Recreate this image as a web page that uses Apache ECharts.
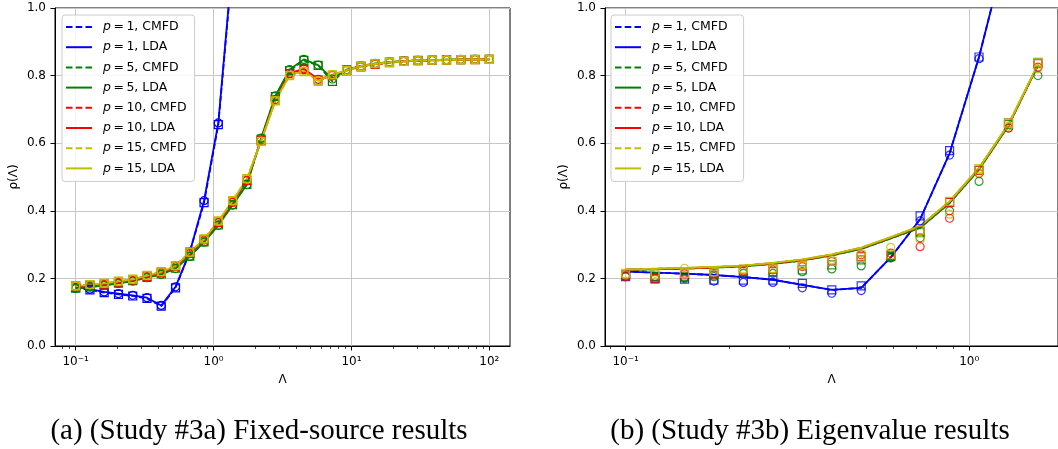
<!DOCTYPE html>
<html><head><meta charset="utf-8">
<script src="https://cdn.jsdelivr.net/npm/echarts@6/dist/echarts.min.js"></script>
<style>html,body{margin:0;padding:0;background:#fff}#c{width:1058px;height:449px}</style>
</head><body><div id="c"></div>
<script>
// ---------- data: panel (a) fixed-source ----------
const lamA = [0.1, 0.1269, 0.161, 0.2043, 0.2593, 0.329, 0.4175, 0.5298, 0.6723, 0.8532, 1.0826, 1.3738, 1.7433, 2.2122, 2.8072, 3.5622, 4.5204, 5.7362, 7.279, 9.2367, 11.721, 14.874, 18.874, 23.95, 30.392, 38.566, 48.939, 62.102, 78.805, 100];
const rhoA_p1_CMFD = [0.172, 0.166, 0.158, 0.153, 0.148, 0.141, 0.118, 0.172, 0.278, 0.424, 0.655, 1.13, 1.9, 3.2, 5.3, null, null, null, null, null, null, null, null, null, null, null, null, null, null, null];
const rhoA_p1_LDA = [0.175, 0.168, 0.16, 0.155, 0.15, 0.143, 0.12, 0.175, 0.278, 0.43, 0.66, 1.14, 1.92, 3.2, 5.3, null, null, null, null, null, null, null, null, null, null, null, null, null, null, null];
const rhoA_p5_CMFD = [0.172, 0.176, 0.18, 0.186, 0.193, 0.203, 0.213, 0.23, 0.266, 0.308, 0.358, 0.418, 0.478, 0.612, 0.738, 0.815, 0.845, 0.83, 0.783, 0.817, 0.828, 0.835, 0.84, 0.843, 0.845, 0.846, 0.847, 0.847, 0.848, 0.848];
const rhoA_p5_LDA = [0.17, 0.174, 0.179, 0.185, 0.192, 0.202, 0.212, 0.229, 0.265, 0.307, 0.357, 0.417, 0.477, 0.615, 0.74, 0.818, 0.848, 0.831, 0.79, 0.818, 0.829, 0.836, 0.84, 0.843, 0.845, 0.846, 0.847, 0.848, 0.848, 0.848];
const rhoA_p10_CMFD = [0.178, 0.18, 0.184, 0.19, 0.196, 0.207, 0.218, 0.236, 0.274, 0.315, 0.366, 0.426, 0.49, 0.607, 0.728, 0.806, 0.818, 0.787, 0.8, 0.815, 0.826, 0.833, 0.838, 0.842, 0.844, 0.845, 0.846, 0.847, 0.847, 0.848];
const rhoA_p10_LDA = [0.176, 0.179, 0.183, 0.189, 0.195, 0.206, 0.217, 0.235, 0.273, 0.314, 0.365, 0.425, 0.489, 0.608, 0.729, 0.807, 0.82, 0.789, 0.801, 0.816, 0.827, 0.834, 0.839, 0.842, 0.844, 0.845, 0.846, 0.847, 0.848, 0.848];
const rhoA_p15_CMFD = [0.178, 0.182, 0.186, 0.192, 0.198, 0.209, 0.22, 0.238, 0.278, 0.317, 0.37, 0.43, 0.495, 0.605, 0.725, 0.8, 0.812, 0.783, 0.802, 0.815, 0.827, 0.835, 0.839, 0.842, 0.844, 0.846, 0.846, 0.847, 0.847, 0.848];
const rhoA_p15_LDA = [0.177, 0.181, 0.185, 0.191, 0.197, 0.208, 0.219, 0.237, 0.277, 0.316, 0.369, 0.429, 0.494, 0.606, 0.726, 0.801, 0.814, 0.785, 0.803, 0.816, 0.828, 0.835, 0.839, 0.842, 0.845, 0.846, 0.847, 0.847, 0.848, 0.848];

// ---------- data: panel (b) eigenvalue ----------
const lamB = [0.1, 0.1218, 0.1484, 0.1807, 0.2202, 0.2683, 0.3268, 0.3981, 0.485, 0.5908, 0.7197, 0.8768, 1.068, 1.3011, 1.5849];
const rhoB_p1_theory = [0.220, 0.217, 0.214, 0.210, 0.204, 0.196, 0.181, 0.166, 0.172, 0.262, 0.375, 0.57, 0.855, 1.2, 1.6];
const rhoB_p5_theory = [0.225, 0.227, 0.229, 0.232, 0.236, 0.243, 0.253, 0.268, 0.287, 0.318, 0.35, 0.423, 0.522, 0.652, 0.83];
const rhoB_p10_theory = [0.226, 0.228, 0.23, 0.233, 0.237, 0.245, 0.255, 0.27, 0.29, 0.321, 0.354, 0.427, 0.526, 0.655, 0.832];
const rhoB_p15_theory = [0.226, 0.229, 0.231, 0.234, 0.238, 0.246, 0.256, 0.271, 0.291, 0.322, 0.355, 0.428, 0.527, 0.656, 0.833];
const rhoB_p1_CMFDnum = [0.205, 0.2, 0.198, 0.195, 0.195, 0.195, 0.185, 0.166, 0.178, 0.264, 0.385, 0.578, 0.855, null, null];
const rhoB_p1_LDAnum = [0.208, 0.205, 0.202, 0.192, 0.188, 0.188, 0.172, 0.156, 0.164, 0.262, 0.37, 0.565, 0.85, null, null];
const rhoB_p5_CMFDnum = [0.21, 0.205, 0.205, 0.21, 0.22, 0.22, 0.225, 0.24, 0.255, 0.265, 0.335, 0.425, 0.52, 0.655, 0.838];
const rhoB_p5_LDAnum = [0.205, 0.205, 0.2, 0.205, 0.215, 0.215, 0.22, 0.228, 0.237, 0.26, 0.32, 0.40, 0.487, 0.645, 0.80];
const rhoB_p10_CMFDnum = [0.21, 0.198, 0.21, 0.215, 0.225, 0.228, 0.24, 0.25, 0.265, 0.268, 0.34, 0.425, 0.52, 0.66, 0.835];
const rhoB_p10_LDAnum = [0.205, 0.2, 0.215, 0.21, 0.222, 0.225, 0.235, 0.25, 0.27, 0.275, 0.294, 0.378, 0.51, 0.645, 0.825];
const rhoB_p15_CMFDnum = [0.215, 0.21, 0.215, 0.22, 0.228, 0.23, 0.24, 0.25, 0.262, 0.27, 0.343, 0.428, 0.525, 0.66, 0.84];
const rhoB_p15_LDAnum = [0.21, 0.215, 0.23, 0.218, 0.225, 0.228, 0.238, 0.255, 0.275, 0.292, 0.314, 0.39, 0.513, 0.65, 0.82];

const seriesNames = ['p = 1, CMFD', 'p = 1, LDA', 'p = 5, CMFD', 'p = 5, LDA', 'p = 10, CMFD', 'p = 10, LDA', 'p = 15, CMFD', 'p = 15, LDA'];
const colors = ['#0000ff', '#0000ff', '#008000', '#008000', '#ff0000', '#ff0000', '#bfbf00', '#bfbf00'];
const majorA = [0.1, 1, 10, 100];
const minorA = [0.08, 0.09, 0.2, 0.3, 0.4, 0.5, 0.6, 0.7, 0.8, 0.9, 2, 3, 4, 5, 6, 7, 8, 9, 20, 30, 40, 50, 60, 70, 80, 90];
const majorB = [0.1, 1];
const minorB = [0.09, 0.2, 0.3, 0.4, 0.5, 0.6, 0.7, 0.8, 0.9];

const seriesA = [rhoA_p1_CMFD, rhoA_p1_LDA, rhoA_p5_CMFD, rhoA_p5_LDA, rhoA_p10_CMFD, rhoA_p10_LDA, rhoA_p15_CMFD, rhoA_p15_LDA];
const theoryB = [rhoB_p1_theory, rhoB_p1_theory, rhoB_p5_theory, rhoB_p5_theory, rhoB_p10_theory, rhoB_p10_theory, rhoB_p15_theory, rhoB_p15_theory];
const numB = [rhoB_p1_CMFDnum, rhoB_p1_LDAnum, rhoB_p5_CMFDnum, rhoB_p5_LDAnum, rhoB_p10_CMFDnum, rhoB_p10_LDAnum, rhoB_p15_CMFDnum, rhoB_p15_LDAnum];

const FONT = 'DejaVu Sans';
const GRIDC = '#c6c6c6';
const sup = {'-': '\u207B', '0': '\u2070', '1': '\u00B9', '2': '\u00B2', '3': '\u00B3'};
function powFmt(v) {
  const e = Math.round(Math.log10(v));
  return '10' + String(e).split('').map(c => sup[c]).join('');
}
function pairs(x, y) { return x.map((v, i) => [v, y[i] == null ? null : y[i]]); }

function xAxes(g, min, max, major, minor) {
  return [{
    type: 'log', logBase: 10, gridIndex: g, min: min, max: max, position: 'bottom',
    axisLine: {show: true, onZero: false, lineStyle: {color: '#000', width: 1}},
    axisTick: {show: true, length: 4.5, lineStyle: {color: '#000', width: 1}, customValues: major},
    axisLabel: {show: true, customValues: major, formatter: powFmt, color: '#000', fontSize: 12, fontFamily: FONT, margin: 10},
    splitLine: {show: true, lineStyle: {color: GRIDC, width: 1}},
    name: '\u039B', nameLocation: 'middle', nameGap: 28,
    nameTextStyle: {color: '#000', fontSize: 12, fontFamily: FONT}
  }, {
    type: 'log', logBase: 10, gridIndex: g, min: min, max: max, position: 'bottom',
    axisLine: {show: false, onZero: false},
    axisTick: {show: true, length: 2.8, lineStyle: {color: '#000', width: 0.8}, customValues: minor},
    axisLabel: {show: false}, splitLine: {show: false}
  }];
}
function yAxis(g) {
  return {
    type: 'value', gridIndex: g, min: 0, max: 1, interval: 0.2,
    axisLine: {show: true, lineStyle: {color: '#000', width: 1}},
    axisTick: {show: true, length: 4.5, lineStyle: {color: '#000'}},
    axisLabel: {formatter: v => v.toFixed(1), color: '#000', fontSize: 12, fontFamily: FONT, margin: 9},
    splitLine: {show: true, lineStyle: {color: GRIDC, width: 1}},
    name: '\u03C1(\u039B)', nameLocation: 'middle', nameGap: 35,
    nameTextStyle: {color: '#000', fontSize: 12, fontFamily: FONT}
  };
}
const DASH_ICON = 'path://M0,0H6.5V2H0Z M9.75,0H16.25V2H9.75Z M19.5,0H26V2H19.5Z';
const SOLID_ICON = 'path://M0,0H26V2H0Z';
function legendAt(left) {
  return {
    orient: 'vertical', left: left, top: 15, selectedMode: false,
    itemWidth: 26, itemHeight: 2, itemGap: 6.2,
    padding: [5, 8, 6, 4],
    backgroundColor: 'rgba(255,255,255,0.85)', borderColor: '#cccccc', borderWidth: 1, borderRadius: 3,
    textStyle: {color: '#000', fontSize: 12.5, fontFamily: FONT, lineHeight: 14, padding: [0, 0, 0, 6],
      rich: {i: {fontStyle: 'italic', fontSize: 12.5, fontFamily: FONT, color: '#000', lineHeight: 14}}},
    formatter: n => n.replace('p = ', '{i|p}\u2009=\u2009'),
    data: seriesNames.map((n, i) => ({name: n, icon: i % 2 === 0 ? DASH_ICON : SOLID_ICON,
      itemStyle: {color: colors[i], borderWidth: 0}}))
  };
}

const series = [];
// panel (a)
seriesNames.forEach((n, i) => {
  const c = colors[i];
  series.push({
    name: n, type: 'line', xAxisIndex: 0, yAxisIndex: 0, data: pairs(lamA, seriesA[i]),
    symbol: i % 2 === 0 ? 'rect' : 'circle', symbolSize: 8, showSymbol: true, clip: true,
    lineStyle: {color: c, width: 1.8, type: i % 2 === 0 ? [5.5, 2.5] : 'solid'},
    itemStyle: {color: 'rgba(0,0,0,0)', borderColor: c, borderWidth: 1.2},
    emphasis: {disabled: true}, animation: false, z: 2
  });
});
// panel (b)
seriesNames.forEach((n, i) => {
  const c = colors[i];
  series.push({
    name: n, type: 'line', xAxisIndex: 2, yAxisIndex: 1, data: pairs(lamB, theoryB[i]),
    showSymbol: false, symbol: 'none', clip: true,
    lineStyle: {color: c, width: 1.8, type: i % 2 === 0 ? [5.5, 2.5] : 'solid'},
    itemStyle: {color: c},
    emphasis: {disabled: true}, animation: false, z: 2
  });
  series.push({
    name: n + ' (num)', type: 'scatter', xAxisIndex: 2, yAxisIndex: 1, data: pairs(lamB, numB[i]),
    symbol: i % 2 === 0 ? 'rect' : 'circle', symbolSize: 8, clip: true,
    itemStyle: {color: 'rgba(0,0,0,0)', borderColor: c, borderWidth: 1.2},
    emphasis: {disabled: true}, animation: false, z: 3
  });
});

const chart = echarts.init(document.getElementById('c'), null, {renderer: 'canvas'});
chart.setOption({
  animation: false,
  backgroundColor: '#fff',
  grid: [
    {left: 55, top: 8, width: 455, height: 338, show: true, borderColor: '#000', borderWidth: 1, backgroundColor: 'transparent', containLabel: false},
    {left: 605, top: 8, width: 455, height: 338, show: true, borderColor: '#000', borderWidth: 1, backgroundColor: 'transparent', containLabel: false}
  ],
  xAxis: [].concat(xAxes(0, 0.0708, 141.25, majorA, minorA), xAxes(1, 0.0871, 1.813, majorB, minorB)),
  yAxis: [yAxis(0), yAxis(1)],
  legend: [legendAt(62), legendAt(611)],
  series: series,
  graphic: [
    {type: 'text', x: 259, y: 431, style: {text: '(a) (Study #3a) Fixed-source results', fontSize: 29, fontFamily: 'Liberation Serif', fill: '#000', align: 'center', verticalAlign: 'middle'}},
    {type: 'text', x: 810, y: 431, style: {text: '(b) (Study #3b) Eigenvalue results', fontSize: 29, fontFamily: 'Liberation Serif', fill: '#000', align: 'center', verticalAlign: 'middle'}}
  ]
});
</script></body></html>
